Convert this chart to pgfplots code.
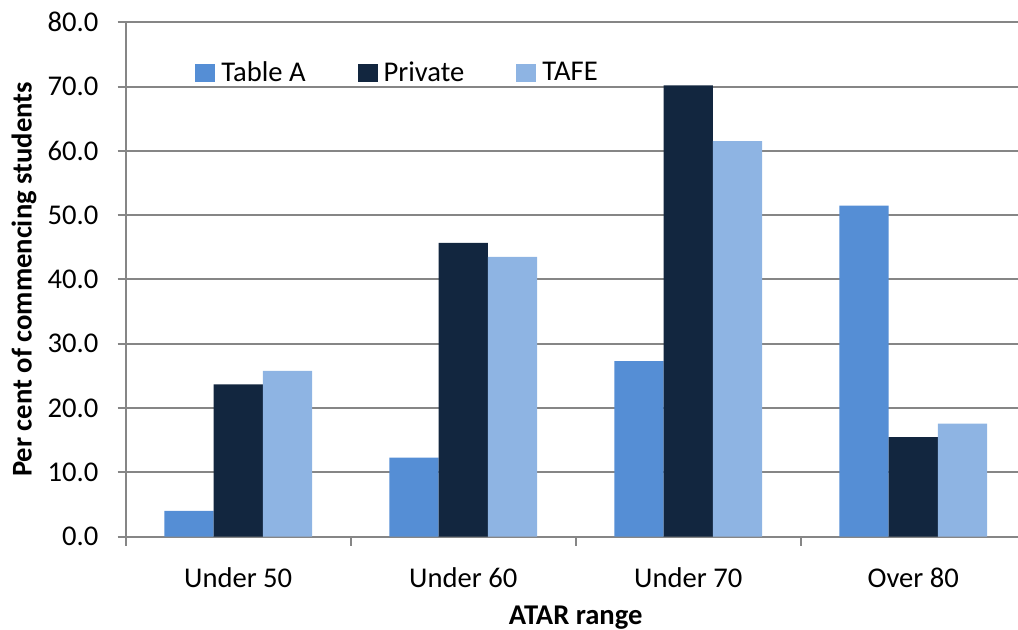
\documentclass[border=0pt]{standalone}
\usepackage{pgfplots}
\pgfplotsset{compat=1.18}
\usepackage{fontspec}
\setmainfont{Carlito}
\usetikzlibrary{calc}
\definecolor{cA}{HTML}{558ED5}
\definecolor{cP}{HTML}{12263F}
\definecolor{cT}{HTML}{8EB4E3}
\definecolor{gridgray}{HTML}{868686}
\newcommand\fs{\fontsize{14.3}{17}\selectfont}
\begin{document}
\begin{tikzpicture}
\begin{axis}[
  scale only axis, width=450pt, height=257.2pt,
  xmin=-0.5, xmax=3.5, ymin=0, ymax=80,
  axis lines*=left,
  axis line style={draw=gridgray, line width=1pt},
  ymajorgrids, grid style={draw=gridgray, line width=1pt},
  ytick={0,10,...,80},
  xtick={0,1,2,3}, xticklabels={Under 50, Under 60, Under 70, Over 80},
  minor xtick={-0.5,0.5,1.5,2.5,3.5},
  major x tick style={draw=none},
  minor x tick style={draw=gridgray, line width=1pt},
  major y tick style={draw=gridgray, line width=1pt},
  tick align=outside, major tick length=4pt, minor tick length=4.5pt,
  /pgf/number format/assume math mode=true,
  yticklabel style={font=\fs, inner sep=0pt, anchor=east, xshift=-9.5pt,
    /pgf/number format/fixed, /pgf/number format/fixed zerofill, /pgf/number format/precision=1},
  xticklabel style={font=\fs, inner sep=0pt, anchor=north, yshift=-11.5pt},
  ylabel={Per cent of commencing students},
  xlabel={ATAR range},
  ylabel style={font=\fs\bfseries, at={(axis description cs:-0.1044,0.5)}, anchor=base},
  xlabel style={font=\fs\bfseries, at={(axis description cs:0.5,-0.1717)}, anchor=base},
  ybar, bar width=0.219,
  legend style={draw=none, fill=none, inner sep=0pt, at={(axis description cs:0.077,0.9014)}, anchor=west,
    font=\fs, nodes={inner sep=0pt},
    /tikz/every odd column/.append style={column sep=3pt},
    /tikz/every even column/.append style={column sep=26pt}},
  legend columns=-1,
  legend image code/.code={\fill[#1] (0pt,-4.5pt) rectangle (10pt,4.5pt);},
]
\addplot[fill=cA, draw=none, bar shift=-0.219] coordinates {(0,4.0) (1,12.3) (2,27.3) (3,51.5)};
\addplot[fill=cP, draw=none, bar shift=0] coordinates {(0,23.7) (1,45.7) (2,70.2) (3,15.5)};
\addplot[fill=cT, draw=none, bar shift=0.219] coordinates {(0,25.8) (1,43.5) (2,61.5) (3,17.6)};
\legend{Table A, Private, TAFE}
\end{axis}
\pgfresetboundingbox
\path ($(current axis.south west)+(-62.85pt,-46.65pt)$) rectangle ($(current axis.north west)+(446.15pt,11.15pt)$);
\end{tikzpicture}
\end{document}
